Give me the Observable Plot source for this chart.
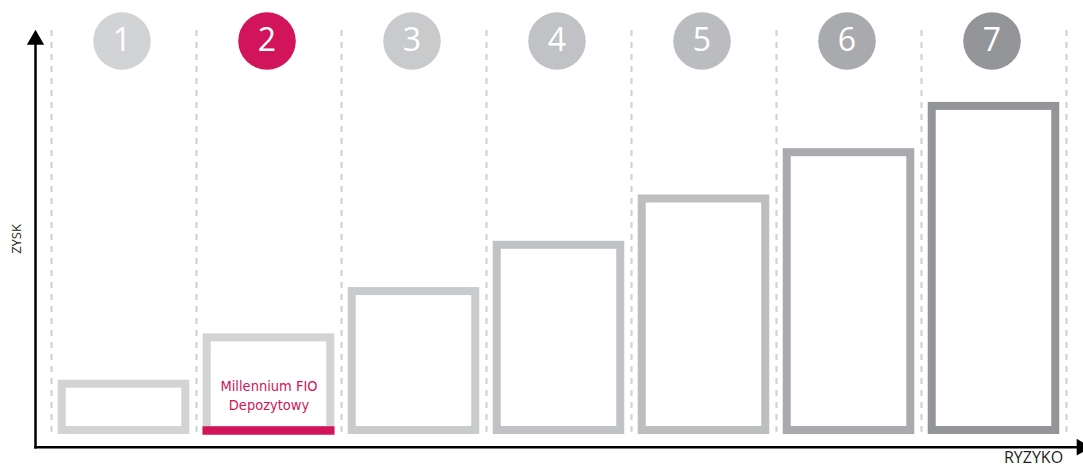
<!DOCTYPE html>
<html>
<head>
<meta charset="utf-8">
<script src="https://cdn.jsdelivr.net/npm/d3@7"></script>
<script src="https://cdn.jsdelivr.net/npm/@observablehq/plot@0.6"></script>
<style>
  html, body { margin: 0; padding: 0; background: #fff; }
</style>
</head>
<body>
<div id="chart"></div>
<script>
// Risk classes (SRRI 1..7)
const levels = [1, 2, 3, 4, 5, 6, 7];
// Relative expected return (box heights)
const gains = [1, 2, 3, 4, 5, 6, 7];
// Colours of circles / box outlines per class
const circleColors = ["#d1d3d4", "#d2145a", "#c9cacc", "#c1c2c5", "#bbbcbf", "#a8aaad", "#939598"];
const boxColors = ["#d1d3d4", "#d1d3d4", "#c9cacc", "#c1c2c5", "#bcbec0", "#a8aaad", "#939598"];
const selectedLevel = 2;
const selectedLabel = "Millennium FIO\nDepozytowy";
const xAxisLabel = "RYZYKO";
const yAxisLabel = "ZYSK";
const separators = [0.5, 1.5, 2.5, 3.5, 4.5, 5.5, 6.5, 7.5];

const data = levels.map((k, i) => ({k, value: gains[i], circle: circleColors[i], box: boxColors[i]}));
const selected = data.filter(d => d.k === selectedLevel);
const HALF = 0.426;
const RED = "#d2145a";

const chart = Plot.plot({
  width: 1083,
  height: 469,
  marginTop: 0,
  marginRight: 0,
  marginBottom: 22.3,
  marginLeft: 35,
  style: {background: "#fff", overflow: "visible"},
  x: {domain: [0.5, 7.5], range: [51, 1066], axis: null},
  y: {domain: [0, 7], range: [430, 430 - 7 * 46.3], axis: null},
  marks: [
    // dashed separators
    Plot.ruleX(separators, {x: d => d, stroke: "#d1d3d4", strokeWidth: 2.2, strokeDasharray: "6,6", insetTop: 30, insetBottom: 15}),
    // boxes
    Plot.rect(data, {x1: d => d.k - HALF, x2: d => d.k + HALF, y1: 0, y2: "value", stroke: d => d.box, fill: "none", strokeWidth: 8}),
    // selected strip
    Plot.ruleY(selected, {x1: d => d.k - HALF, x2: d => d.k + HALF, y: 0, stroke: RED, strokeWidth: 8.5, strokeLinecap: "square"}),
    Plot.text(selected, {x: "k", y: 0, dy: -36.5, text: () => selectedLabel, fill: RED, fontSize: 14.5, lineHeight: 1.32, fontFamily: "DejaVu Sans Condensed", lineAnchor: "middle"}),
    // circles with numbers
    Plot.dot(data, {x: "k", frameAnchor: "top", dy: 40.5, dx: -2, r: 28.8, fill: d => d.circle, stroke: null}),
    Plot.text(data, {x: "k", frameAnchor: "top", dy: 40.5, dx: -2, text: d => String(d.k), fill: "#fff", fontSize: 32, fontFamily: "Open Sans", lineAnchor: "middle"}),
    // axes
    Plot.frame({anchor: "left", stroke: "#000", strokeWidth: 2.5, insetTop: 40}),
    Plot.frame({anchor: "bottom", stroke: "#000", strokeWidth: 2.5, insetRight: 6}),
    Plot.dot([0], {frameAnchor: "top-left", dy: 39.3, r: 6.43, symbol: "triangle", fill: "#000", stroke: null}),
    Plot.dot([0], {frameAnchor: "bottom-right", dx: -2, r: 6.2, symbol: "triangle", rotate: 90, fill: "#000", stroke: null}),
    Plot.text([yAxisLabel], {frameAnchor: "left", dx: -19, dy: 30, rotate: -90, text: d => d, fontSize: 13, fill: "#231f20", fontFamily: "Open Sans"}),
    Plot.text([xAxisLabel], {frameAnchor: "bottom-right", dx: -50, dy: 16, text: d => d, fontSize: 16, fill: "#231f20", fontFamily: "Open Sans", textAnchor: "middle"})
  ]
});
document.getElementById("chart").appendChild(chart);
</script>
</body>
</html>
